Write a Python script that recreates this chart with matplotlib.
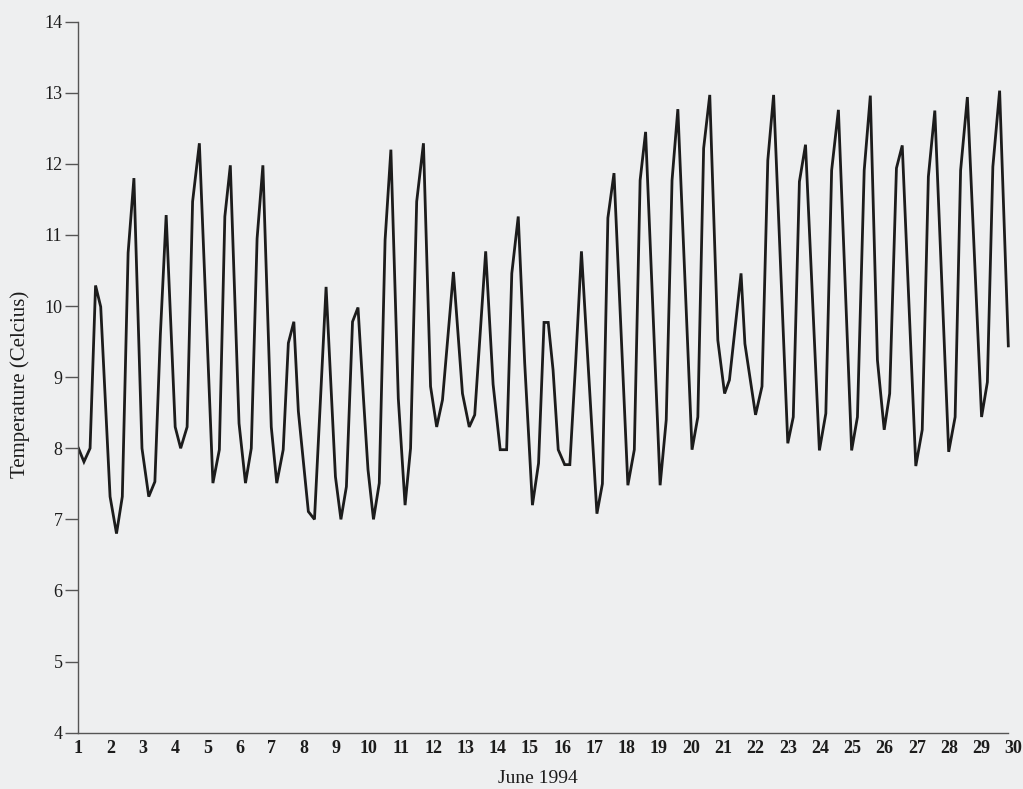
"""
Water temperature, June 1994 -- redrawn from a scanned figure.
"""

import matplotlib

matplotlib.use("Agg")
import matplotlib.pyplot as plt

# --------------------------------------------------------------------------- #
# DATA -- vertices (day of month, deg C)                    #
# --------------------------------------------------------------------------- #
day = [
    1.00, 1.17, 1.36, 1.53, 1.69, 1.98, 2.18, 2.36, 2.54, 2.72,
    2.97, 3.18, 3.37, 3.54, 3.72, 4.00, 4.17, 4.37, 4.54, 4.75,
    5.17, 5.37, 5.54, 5.71, 5.98, 6.18, 6.36, 6.54, 6.72, 6.98,
    7.15, 7.35, 7.51, 7.68, 7.82, 8.13, 8.32, 8.68, 8.97, 9.14,
    9.31, 9.50, 9.67, 9.84, 9.98, 10.15, 10.33, 10.51, 10.69, 10.92,
    11.13, 11.30, 11.49, 11.70, 11.92, 12.11, 12.29, 12.63, 12.91, 13.12,
    13.29, 13.63, 13.86, 14.08, 14.28, 14.44, 14.64, 14.84, 15.08, 15.27,
    15.44, 15.57, 15.72, 15.88, 16.08, 16.24, 16.42, 16.60, 17.08, 17.25,
    17.42, 17.61, 18.04, 18.24, 18.42, 18.59, 19.04, 19.23, 19.41, 19.59,
    20.03, 20.21, 20.39, 20.58, 20.83, 21.04, 21.19, 21.55, 21.67, 22.00,
    22.20, 22.38, 22.56, 23.00, 23.17, 23.36, 23.55, 23.98, 24.18, 24.36,
    24.57, 24.98, 25.16, 25.37, 25.56, 25.78, 25.99, 26.16, 26.37, 26.55,
    26.97, 27.17, 27.36, 27.56, 27.99, 28.19, 28.36, 28.57, 29.01, 29.19,
    29.36, 29.57, 29.84,
]
temp = [
    8.00, 7.81, 8.00, 10.29, 9.99, 7.32, 6.80, 7.32, 10.75, 11.80,
    8.00, 7.32, 7.53, 9.60, 11.28, 8.30, 8.00, 8.30, 11.47, 12.29,
    7.51, 7.98, 11.26, 11.98, 8.35, 7.51, 8.00, 10.95, 11.98, 8.30,
    7.51, 7.98, 9.48, 9.78, 8.52, 7.11, 7.00, 10.27, 7.60, 7.00,
    7.46, 9.78, 9.98, 8.70, 7.70, 7.00, 7.51, 10.93, 12.20, 8.70,
    7.20, 8.00, 11.47, 12.29, 8.87, 8.30, 8.68, 10.48, 8.77, 8.30,
    8.47, 10.77, 8.90, 7.98, 7.98, 10.46, 11.26, 9.20, 7.20, 7.79,
    9.77, 9.77, 9.10, 7.98, 7.77, 7.77, 9.20, 10.77, 7.08, 7.50,
    11.24, 11.87, 7.48, 7.98, 11.77, 12.45, 7.48, 8.40, 11.77, 12.77,
    7.98, 8.44, 12.22, 12.97, 9.52, 8.77, 8.96, 10.46, 9.47, 8.47,
    8.87, 12.05, 12.97, 8.07, 8.44, 11.75, 12.27, 7.97, 8.49, 11.91,
    12.76, 7.97, 8.44, 11.91, 12.96, 9.24, 8.26, 8.77, 11.94, 12.26,
    7.75, 8.26, 11.82, 12.75, 7.95, 8.44, 11.91, 12.94, 8.44, 8.93,
    11.96, 13.03, 9.44,
]

day_ticks = list(range(1, 31))
temp_ticks = list(range(4, 15))

PAPER = "#eeeff0"
INK = "#1c1c1c"
AXIS = "#555555"
SERIF = ["Liberation Serif", "DejaVu Serif"]


def main() -> None:
    fig = plt.figure(figsize=(10.23, 7.89), dpi=100, facecolor=PAPER)
    ax = fig.add_axes([0.0767, 0.0714, 0.9140, 0.9011])
    ax.set_facecolor(PAPER)

    ax.plot(day, temp, color=INK, linewidth=2.0, solid_joinstyle="miter")

    ax.set_xlim(1, 29.98)
    ax.set_ylim(4, 14)
    ax.set_xticks(day_ticks)
    ax.set_yticks(temp_ticks)

    for side in ("top", "right"):
        ax.spines[side].set_visible(False)
    for side in ("left", "bottom"):
        ax.spines[side].set_color(AXIS)
        ax.spines[side].set_linewidth(1.0)
    ax.spines["bottom"].set_bounds(1, day[-1])

    ax.tick_params(axis="y", direction="out", length=9.5, width=1.0,
                   color=AXIS, pad=2, labelsize=13, labelcolor=INK)
    ax.tick_params(axis="x", length=0, pad=5, labelsize=13, labelcolor=INK)
    for lab in ax.get_yticklabels():
        lab.set_family(SERIF)
    for lab in ax.get_xticklabels():
        lab.set_family(SERIF)
        lab.set_fontweight("bold")

    ax.set_xlabel("June 1994", family=SERIF, fontsize=14, color=INK)
    ax.xaxis.set_label_coords(0.491, -0.053)
    ax.set_ylabel("Temperature (Celcius)", family=SERIF, fontsize=15,
                  color=INK)
    ax.yaxis.set_label_coords(-0.052, 0.49)

    fig.savefig("out.png", dpi=100, facecolor=PAPER)
    plt.close(fig)


if __name__ == "__main__":
    main()
